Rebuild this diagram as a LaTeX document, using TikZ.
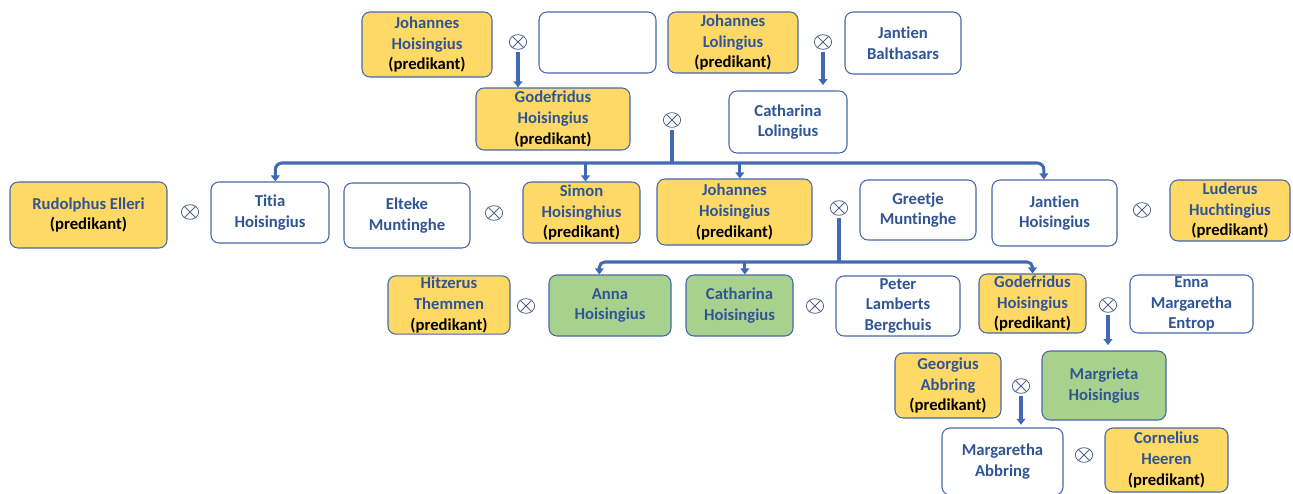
\documentclass[tikz,border=0pt]{standalone}
\usepackage{fontspec}
\setmainfont{Carlito}[Ligatures=NoCommon]
\usetikzlibrary{shapes.geometric,arrows.meta,calc}
\definecolor{txtblue}{RGB}{47,85,151}
\definecolor{edgeblue}{RGB}{68,104,170}
\definecolor{linkblue}{RGB}{66,106,180}
\definecolor{gold}{RGB}{255,217,102}
\definecolor{leaf}{RGB}{169,209,142}
\definecolor{marcol}{RGB}{80,100,140}
\tikzset{
  person/.style={draw=edgeblue, line width=0.8pt, rounded corners=6pt, align=center,
    font=\fontsize{12.5}{15.5}\selectfont\bfseries, text=txtblue, inner sep=1pt},
  white/.style={person, fill=white},
  yellow/.style={person, fill=gold},
  green/.style={person, fill=leaf},
  marr/.style={ellipse, draw=marcol, line width=0.6pt, minimum width=13pt, minimum height=11pt, inner sep=0pt},
  link/.style={draw=linkblue, line width=2.3pt},
  tip/.style={-{Triangle[length=4.5pt,width=6.5pt]}},
}
\newcommand\pbox[7]{\node[#2, minimum width={(#5-#3)*0.75pt}, minimum height={(#6-#4)*0.75pt}] (#1) at ({(#3+#5)/2},{(#4+#6)/2}) {#7};}
\newcommand\pred{\\\textcolor{black}{(predikant)}}
\begin{document}
\begin{tikzpicture}[x=0.75pt,y=-0.75pt]
\useasboundingbox (0,0) rectangle (1293,493);
% generation 0
\pbox{jh1}{yellow}{362}{12}{492}{77}{Johannes\\Hoisingius\pred}
\pbox{empty}{white}{539}{12}{656}{73}{}
\pbox{jl}{yellow}{668}{12}{798}{73}{Johannes\\Lolingius\pred}
\pbox{jb}{white}{845}{12}{961}{74}{Jantien\\Balthasars}
\node[marr] (m1) at (518,42) {};
\node[marr] (m2) at (823,42) {};
% generation 1
\pbox{gh1}{yellow}{476}{88}{630}{150}{Godefridus\\Hoisingius\pred}
\pbox{cl}{white}{729}{91}{847}{153}{Catharina\\Lolingius}
\node[marr] (m3) at (672,120) {};
% generation 2
\pbox{re}{yellow}{10}{182}{167}{248}{Rudolphus Elleri\pred}
\node[marr] (m4) at (190,212) {};
\pbox{th}{white}{211}{182}{329}{243}{Titia\\Hoisingius}
\pbox{em}{white}{344}{183}{470}{248}{Elteke\\Muntinghe}
\node[marr] (m5) at (494,213) {};
\pbox{sh}{yellow}{523}{182}{640}{243}{Simon\\Hoisinghius\pred}
\pbox{jh2}{yellow}{657}{179}{812}{245}{Johannes\\Hoisingius\pred}
\node[marr] (m6) at (839,208) {};
\pbox{gm}{white}{860}{180}{976}{240}{Greetje\\Muntinghe}
\pbox{jah}{white}{992}{180}{1117}{246}{Jantien\\Hoisingius}
\node[marr] (m7) at (1142,210) {};
\pbox{lh}{yellow}{1170}{180}{1290}{241}{Luderus\\Huchtingius\pred}
% generation 3
\pbox{ht}{yellow}{388}{276}{510}{334}{Hitzerus\\Themmen\pred}
\node[marr] (m8) at (526,306) {};
\pbox{ah}{green}{549}{275}{671}{336}{Anna\\Hoisingius}
\pbox{ch}{green}{686}{275}{793}{336}{Catharina\\Hoisingius}
\node[marr] (m9) at (815,306) {};
\pbox{pb}{white}{836}{276}{960}{336}{Peter\\Lamberts\\Bergchuis}
\pbox{gh2}{yellow}{979}{274}{1086}{333}{Godefridus\\Hoisingius\pred}
\node[marr] (m10) at (1108,305) {};
\pbox{me}{white}{1130}{275}{1253}{333}{Enna\\Margaretha\\Entrop}
% generation 4
\pbox{ga}{yellow}{895}{353}{1001}{418}{Georgius\\Abbring\pred}
\node[marr] (m11) at (1021,386) {};
\pbox{mh}{green}{1042}{351}{1166}{420}{Margrieta\\Hoisingius}
% generation 5
\pbox{ma}{white}{942}{428}{1063}{495}{Margaretha\\Abbring}
\node[marr] (m12) at (1084,455) {};
\pbox{chr}{yellow}{1105}{428}{1228}{492}{Cornelius\\Heeren\pred}
% crosses in marriage symbols
\foreach \m in {m1,m2,m3,m4,m5,m6,m7,m8,m9,m10,m11,m12}{
  \draw[marcol, line width=0.6pt] (\m.45) -- (\m.225) (\m.135) -- (\m.315);
}
% connectors
\draw[link,tip,shorten <=2pt] (m1.south) -- (m1.south |- gh1.north);
\draw[link,tip,shorten <=2pt,shorten >=4pt] (m2.south) -- (m2.south |- cl.north);
\coordinate (bus1) at (672,163);
\draw[link,shorten <=2pt] (m3.south) -- (bus1);
\draw[link,tip,rounded corners=5pt] (bus1) -| ([xshift=4pt]th.north);
\draw[link,tip,rounded corners=5pt] (bus1) -| ([xshift=-8pt]jah.north);
\draw[link,tip] ([xshift=3pt]sh.north |- bus1) -- ([xshift=3pt]sh.north);
\draw[link,tip] ([xshift=4pt]jh2.north |- bus1) -- ([xshift=4pt]jh2.north);
\coordinate (bus2) at (839,262);
\draw[link,shorten <=2pt] (m6.south) -- (bus2);
\draw[link,tip,rounded corners=4pt] (bus2) -| ([xshift=-8pt]ah.north);
\draw[link,tip,rounded corners=4pt] (bus2) -| (gh2.north);
\draw[link,tip] ([xshift=4pt]ch.north |- bus2) -- ([xshift=4pt]ch.north);
\draw[link,tip,shorten <=2pt,shorten >=4pt] (m10.south) -- (m10.south |- mh.north);
\draw[link,tip,shorten <=2pt,shorten >=2pt] (m11.south) -- (m11.south |- ma.north);
\end{tikzpicture}
\end{document}
